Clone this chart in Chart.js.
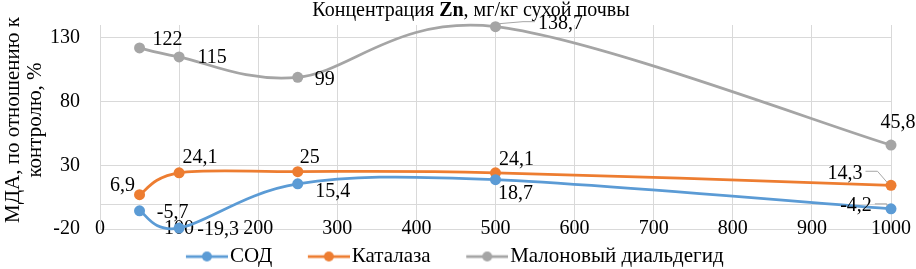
<!DOCTYPE html>
<html lang="ru">
  <head>
    <meta charset="UTF-8" />
    <title>Концентрация Zn</title>
    <style>
      * {
        margin: 0;
        padding: 0;
        box-sizing: border-box;
      }
      body {
        background: #fff;
      }
    </style>
  </head>
  <body>
    <canvas id="myChart" width="916" height="269"></canvas>

    <script src="https://cdn.jsdelivr.net/npm/chart.js"></script>

    <script>
      const concentrations = [50, 100, 250, 500, 1000];
      const sodValues = [-5.7, -19.3, 15.4, 18.7, -4.2];
      const catalaseValues = [6.9, 24.1, 25, 24.1, 14.3];
      const mdaValues = [122, 115, 99, 138.7, 45.8];
      const seriesNames = ["СОД", "Каталаза", "Малоновый диальдегид"];
      const xTicks = [0, 100, 200, 300, 400, 500, 600, 700, 800, 900, 1000];
      const yTicks = [-20, 30, 80, 130];
      const xTitleParts = ["Концентрация ", "Zn", ", мг/кг сухой почвы"];
      const yTitle = ["МДА, по отношению к", "контролю, %"];

      const colors = ["#5B9BD5", "#ED7D31", "#A5A5A5"];
      const gridColor = "#D9D9D9";
      const serif = "'Liberation Serif', 'Times New Roman', serif";

      // where each value label sits relative to its point (px), and leader lines
      const labelOffsets = [
        [[33, 2], [39, 2], [35, 8], [20, 14], [-35, -3]],
        [[-17, -9], [21, -15], [12, -14], [21, -13], [-46, -12]],
        [[28, -8], [33, 1], [27, 2], [65, -3], [7, -22]],
      ];
      const leaders = [
        [false, false, false, false, true],
        [false, false, false, false, true],
        [false, false, false, true, false],
      ];

      Chart.defaults.font.family = serif;
      Chart.defaults.font.size = 20;
      Chart.defaults.color = "#000";

      const toPoints = (vals) =>
        concentrations.map((x, i) => ({ x: x, y: vals[i] }));

      // legend swatch: short line with a dot, pushed to the right of the box
      function legendIcon(color) {
        const c = document.createElement("canvas");
        c.width = 69;
        c.height = 14;
        const g = c.getContext("2d");
        g.strokeStyle = color;
        g.lineWidth = 2.75;
        g.beginPath();
        g.moveTo(27, 7);
        g.lineTo(69, 7);
        g.stroke();
        g.fillStyle = color;
        g.beginPath();
        g.arc(48, 7, 5, 0, Math.PI * 2);
        g.fill();
        return c;
      }
      const icons = colors.map(legendIcon);

      const makeSet = (label, vals, color) => ({
        label: label,
        data: toPoints(vals),
        borderColor: color,
        backgroundColor: color,
        borderWidth: 2.75,
        pointRadius: 5.5,
        pointBorderWidth: 0,
        tension: 0.4,
        clip: false,
      });

      // Excel-style smoothing: control points at 1/6 of neighbour difference
      const excelSmooth = {
        id: "excelSmooth",
        beforeDatasetDraw(chart, args) {
          const meta = args.meta;
          meta.dataset.updateControlPoints(chart.chartArea, "x");
          const pts = meta.data;
          const n = pts.length;
          pts.forEach((p, i) => {
            const a = pts[Math.max(i - 1, 0)];
            const b = pts[Math.min(i + 1, n - 1)];
            const tx = (b.x - a.x) / 6;
            const ty = (b.y - a.y) / 6;
            p.cp1x = p.x - tx;
            p.cp1y = p.y - ty;
            p.cp2x = p.x + tx;
            p.cp2y = p.y + ty;
          });
        },
      };

      const zeroLine = {
        id: "zeroLine",
        beforeDatasetsDraw(chart) {
          const { ctx, chartArea: { left, right }, scales: { y } } = chart;
          const yy = Math.round(y.getPixelForValue(0)) + 0.5;
          ctx.save();
          ctx.strokeStyle = gridColor;
          ctx.lineWidth = 1;
          ctx.beginPath();
          ctx.moveTo(left, yy);
          ctx.lineTo(right, yy);
          ctx.stroke();
          ctx.restore();
        },
      };

      const valueLabels = {
        id: "valueLabels",
        afterDatasetsDraw(chart) {
          const ctx = chart.ctx;
          ctx.save();
          ctx.font = "20px " + serif;
          ctx.fillStyle = "#000";
          ctx.textAlign = "center";
          ctx.textBaseline = "middle";
          chart.data.datasets.forEach((ds, d) => {
            const meta = chart.getDatasetMeta(d);
            meta.data.forEach((pt, i) => {
              const [dx, dy] = labelOffsets[d][i];
              const txt = String(ds.data[i].y).replace(".", ",");
              const lx = pt.x + dx;
              const ly = pt.y + dy;
              ctx.fillText(txt, lx, ly);
              if (leaders[d][i]) {
                const w = ctx.measureText(txt).width;
                const side = dx < 0 ? 1 : -1;
                const sx = lx + side * (w / 2 + 3);
                ctx.strokeStyle = "#A6A6A6";
                ctx.lineWidth = 1;
                ctx.beginPath();
                ctx.moveTo(sx, ly - 2);
                ctx.lineTo(sx + side * 12, ly - 2);
                ctx.lineTo(pt.x + side * -4, pt.y - 3);
                ctx.stroke();
              }
            });
          });
          ctx.restore();
        },
      };

      const titles = {
        id: "titles",
        afterDraw(chart) {
          const ctx = chart.ctx;
          ctx.save();
          ctx.fillStyle = "#000";
          ctx.textBaseline = "middle";
          const fonts = ["20px " + serif, "bold 20px " + serif, "20px " + serif];
          let total = 0;
          const widths = xTitleParts.map((p, i) => {
            ctx.font = fonts[i];
            const w = ctx.measureText(p).width;
            total += w;
            return w;
          });
          let x = 471 - total / 2;
          xTitleParts.forEach((p, i) => {
            ctx.font = fonts[i];
            ctx.fillText(p, x, 11);
            x += widths[i];
          });

          // rotated y title, two lines
          ctx.font = "21px " + serif;
          ctx.textAlign = "center";
          ctx.translate(0, 120);
          ctx.rotate(-Math.PI / 2);
          ctx.fillText(yTitle[0], 0, 13);
          ctx.fillText(yTitle[1], 0, 35);
          ctx.restore();
        },
      };

      const config = {
        type: "line",
        data: {
          datasets: [
            makeSet(seriesNames[0], sodValues, colors[0]),
            makeSet(seriesNames[1], catalaseValues, colors[1]),
            makeSet(seriesNames[2], mdaValues, colors[2]),
          ],
        },
        options: {
          responsive: false,
          animation: false,
          layout: { padding: { top: 25, right: 25, left: 0, bottom: -8 } },
          scales: {
            x: {
              type: "linear",
              min: 0,
              max: 1000,
              afterBuildTicks: (s) => {
                s.ticks = xTicks.map((v) => ({ value: v }));
              },
              afterFit: (s) => {
                s.height = 0;
              },
              grid: { color: gridColor, drawTicks: false },
              border: { color: gridColor },
              ticks: {
                mirror: true,
                padding: -12,
                maxRotation: 0,
                autoSkip: false,
                callback: (v) => String(v),
              },
            },
            y: {
              min: -20,
              max: 140,
              afterBuildTicks: (s) => {
                s.ticks = yTicks.map((v) => ({ value: v }));
              },
              afterFit: (s) => {
                s.width = 100;
                s.paddingTop = 0;
                s.paddingBottom = 0;
              },
              grid: { color: gridColor, drawTicks: false },
              border: { color: gridColor },
              ticks: { padding: 20, callback: (v) => String(v) },
            },
          },
          plugins: {
            legend: {
              position: "bottom",
              labels: {
                usePointStyle: true,
                pointStyleWidth: 52,
                padding: 17,
                font: { size: 21 },
                generateLabels: (chart) =>
                  Chart.defaults.plugins.legend.labels
                    .generateLabels(chart)
                    .map((it, i) => ({ ...it, pointStyle: icons[i] })),
              },
            },
            tooltip: { enabled: false },
          },
        },
        plugins: [excelSmooth, zeroLine, valueLabels, titles],
      };

      const myChart = new Chart(document.getElementById("myChart"), config);
    </script>
  </body>
</html>
